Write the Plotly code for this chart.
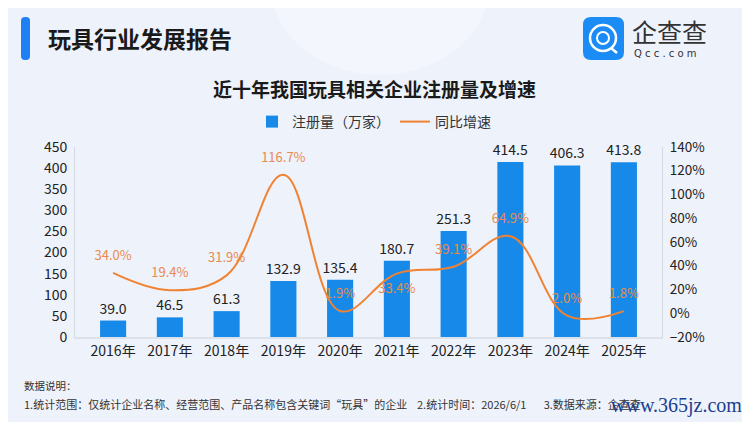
import plotly.graph_objects as go

# 数据
years = ['2016年', '2017年', '2018年', '2019年', '2020年',
         '2021年', '2022年', '2023年', '2024年', '2025年']
registrations = [39.0, 46.5, 61.3, 132.9, 135.4, 180.7, 251.3, 414.5, 406.3, 413.8]
growth = [34.0, 19.4, 31.9, 116.7, 1.9, 33.4, 39.1, 64.9, -2.0, 1.8]
growth_labels = ['34.0%', '19.4%', '31.9%', '116.7%', '1.9%',
                 '33.4%', '39.1%', '64.9%', '2.0%', '1.8%']

# 页面 body 有 8px 外边距，所以图比窗口小 8px，坐标也减 8
OFF = 8
W, H = 750 - OFF, 422 - OFF
L, R, T, B = 75 - OFF, 662 - OFF, 147 - OFF, 337 - OFF   # 绘图区 (像素)


def px_x(x):
    return (x - OFF - L) / (R - L)


def px_y(y):
    return (B - (y - OFF)) / (B - T)


FONT = 'Noto Sans CJK SC'
BLUE = '#178ae9'
ORANGE = '#f08232'

fig = go.Figure()

fig.add_trace(go.Bar(
    x=years, y=registrations, name='注册量（万家）',
    marker=dict(color=BLUE, line=dict(width=0)),
    width=0.46,
    text=[f'{v:.1f}' for v in registrations], textposition='outside',
    textfont=dict(size=14, color='#222222', family=FONT),
    constraintext='none', cliponaxis=False,
))

# 透明点只用来把百分比标签往上推；2021年的标签在线下方
label_pos = ['top center'] * len(years)
label_pos[5] = 'bottom center'
fig.add_trace(go.Scatter(
    x=years, y=growth, name='同比增速', yaxis='y2',
    mode='lines+markers+text', line=dict(color=ORANGE, width=2, shape='spline', smoothing=1.1),
    marker=dict(size=14, color='rgba(0,0,0,0)'),
    text=growth_labels, textposition=label_pos,
    textfont=dict(size=13, color='#ea8a4c', family=FONT),
    cliponaxis=False,
))

annotations = [
    dict(text='<b>玩具行业发展报告</b>', x=px_x(46), y=px_y(38), xanchor='left', yanchor='middle',
         font=dict(size=23, color='#1a1a1a', family=FONT)),
    dict(text='企查查', x=px_x(630), y=px_y(31), xanchor='left', yanchor='middle',
         font=dict(size=25, color='#333333', family=FONT)),
    dict(text='Q c c . c o m', x=px_x(632), y=px_y(53), xanchor='left', yanchor='middle',
         font=dict(size=10, color='#333333', family='DejaVu Sans')),
    dict(text='<b>近十年我国玩具相关企业注册量及增速</b>', x=px_x(374), y=px_y(89), xanchor='center',
         yanchor='middle', font=dict(size=19, color='#1a1a1a', family=FONT)),
    dict(text='数据说明：', x=px_x(22), y=px_y(385), xanchor='left', yanchor='middle',
         font=dict(size=10.5, color='#333333', family=FONT)),
    dict(text='1.统计范围：仅统计企业名称、经营范围、产品名称包含关键词“玩具”的企业'
              '&nbsp;&nbsp;&nbsp;&nbsp;2.统计时间：2026/6/1&nbsp;&nbsp;&nbsp;&nbsp;&nbsp;&nbsp;&nbsp;3.数据来源：企查查',
         x=px_x(22), y=px_y(404), xanchor='left', yanchor='middle',
         font=dict(size=11, color='#333333', family=FONT)),
    dict(text='www.365jz.com', x=px_x(744), y=px_y(405), xanchor='right', yanchor='middle',
         font=dict(size=20, color='#1b3d8f', family='Liberation Serif')),
]
for a in annotations:
    a.update(xref='paper', yref='paper', showarrow=False)


def rounded_rect(x0, y0, x1, y1, r):
    # 像素坐标的圆角矩形 -> paper 坐标路径
    X = lambda v: px_x(v)
    Y = lambda v: px_y(v)
    return (f'M {X(x0 + r)} {Y(y0)} L {X(x1 - r)} {Y(y0)} Q {X(x1)} {Y(y0)} {X(x1)} {Y(y0 + r)} '
            f'L {X(x1)} {Y(y1 - r)} Q {X(x1)} {Y(y1)} {X(x1 - r)} {Y(y1)} '
            f'L {X(x0 + r)} {Y(y1)} Q {X(x0)} {Y(y1)} {X(x0)} {Y(y1 - r)} '
            f'L {X(x0)} {Y(y0 + r)} Q {X(x0)} {Y(y0)} {X(x0 + r)} {Y(y0)} Z')


shapes = [
    # 背景光晕
    dict(type='circle', x0=px_x(270), x1=px_x(490), y0=px_y(-110), y1=px_y(75),
         fillcolor='#f3f6fd', line=dict(width=0), layer='below'),
    # 标题左侧蓝条
    dict(type='path', path=rounded_rect(21, 17, 30, 60, 4),
         fillcolor='#1f7ff5', line=dict(width=0)),
    # logo
    dict(type='path', path=rounded_rect(583, 17, 624, 60, 8),
         fillcolor='#1b8bf5', line=dict(width=0)),
    dict(type='circle', x0=px_x(590), x1=px_x(616), y0=px_y(51), y1=px_y(25),
         fillcolor='rgba(0,0,0,0)', line=dict(color='white', width=2.5)),
    dict(type='circle', x0=px_x(597), x1=px_x(609), y0=px_y(44), y1=px_y(32),
         fillcolor='rgba(0,0,0,0)', line=dict(color='white', width=2)),
    dict(type='line', x0=px_x(611), x1=px_x(617), y0=px_y(48), y1=px_y(53),
         line=dict(color='white', width=2.5)),
]
for s in shapes:
    s.update(xref='paper', yref='paper')

fig.update_layout(
    width=W, height=H,
    margin=dict(l=L, r=W - R, t=T, b=H - B, pad=0, autoexpand=False),
    paper_bgcolor='#eef2fb', plot_bgcolor='rgba(0,0,0,0)',
    font=dict(family=FONT, size=12, color='#333333'),
    showlegend=True,
    legend=dict(orientation='h', xref='container', yref='container', x=(374 - OFF) / W, xanchor='center',
                y=1 - (122 - OFF) / H, yanchor='middle', font=dict(size=14, color='#333333', family=FONT),
                bgcolor='rgba(0,0,0,0)', itemwidth=30),
    bargap=0.54,
    xaxis=dict(showgrid=False, showline=True, linecolor='#dde1ea', linewidth=1.5, automargin=False,
               ticks='', tickfont=dict(size=14, color='#222222', family=FONT)),
    yaxis=dict(range=[0, 450], dtick=50, showgrid=False, showline=True, linecolor='#d5d9e2',
               linewidth=1, ticks='', zeroline=False, automargin=False, ticklabelstandoff=4,
               tickfont=dict(size=14, color='#222222')),
    yaxis2=dict(range=[-20, 140], dtick=20, ticksuffix='%', overlaying='y', side='right',
                showgrid=False, showline=True, linecolor='#d5d9e2', linewidth=1, ticks='',
                zeroline=False, automargin=False, ticklabelstandoff=4,
                tickfont=dict(size=13.5, color='#222222')),
    annotations=annotations,
    shapes=shapes,
)

fig.write_html('out.html')
